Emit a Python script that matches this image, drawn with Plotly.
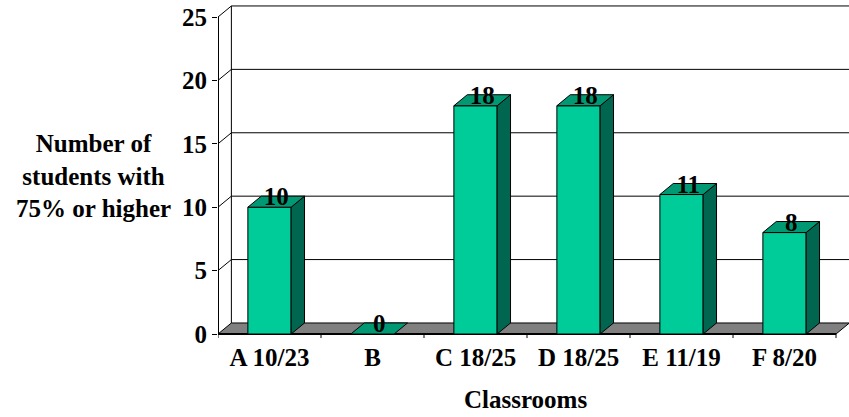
import plotly.graph_objects as go

# Data
classrooms = ["A 10/23", "B", "C 18/25", "D 18/25", "E 11/19", "F 8/20"]
students_75 = [10, 0, 18, 18, 11, 8]
y_ticks = [0, 5, 10, 15, 20, 25]

# Styling / pseudo-3D geometry (in axis units)
FRONT = "#00CC99"
TOP = "#009973"
SIDE = "#006650"
FLOOR = "#808080"
BAR_W = 0.42
DX, DY = 0.13, 0.87          # depth offset of the 3D box
X_MIN, X_MAX = -0.5, 5.626
Y_MIN, Y_MAX = -0.473, 25.946
SERIF = "Liberation Serif"


def font():
    return dict(family=SERIF, size=25, color="black")


def bold(s):
    return f"<b>{s}</b>"


def poly(xs, ys, fill=None, width=1):
    """Closed outline (optionally filled) in data coordinates."""
    kw = dict(fill="toself", fillcolor=fill) if fill else {}
    return go.Scatter(x=xs, y=ys, mode="lines",
                      line=dict(color="black", width=width),
                      showlegend=False, hoverinfo="skip", **kw)


idx = list(range(len(classrooms)))
n = len(classrooms)
x_end = X_MIN + n

fig = go.Figure()

# back wall gridlines plus the connectors on the left wall
for v in y_ticks[1:]:
    fig.add_trace(poly([X_MIN, X_MIN + DX, X_MAX], [v, v + DY, v + DY]))
# left wall back edge
fig.add_trace(poly([X_MIN + DX, X_MIN + DX], [DY, y_ticks[-1] + DY]))
# floor
fig.add_trace(poly([X_MIN, x_end, x_end + DX, X_MIN + DX, X_MIN],
                   [0, 0, DY, DY, 0], fill=FLOOR))
# front floor edge and front value axis
fig.add_trace(poly([x_end, X_MIN, X_MIN], [0, 0, y_ticks[-1]], width=2))
# category boundary ticks
for k in range(n + 1):
    fig.add_trace(poly([X_MIN + k, X_MIN + k], [0, -0.32]))

# 3D bars: front, side and top faces
for i, v in zip(idx, students_75):
    xl, xr = i - BAR_W / 2, i + BAR_W / 2
    if v > 0:
        fig.add_trace(poly([xl, xr, xr, xl, xl], [0, 0, v, v, 0], fill=FRONT))
        fig.add_trace(poly([xr, xr + DX, xr + DX, xr, xr],
                           [0, DY, v + DY, v, 0], fill=SIDE))
    fig.add_trace(poly([xl, xr, xr + DX, xl + DX, xl],
                       [v, v, v + DY, v + DY, v], fill=TOP))

# value labels on top of the bars
fig.add_trace(go.Scatter(
    x=[i + DX / 2 for i in idx],
    y=[v + DY / 2 + 0.2 for v in students_75],
    text=[bold(v) for v in students_75],
    mode="text", textposition="middle center",
    textfont=font(),
    showlegend=False, hoverinfo="skip", cliponaxis=False,
))

fig.update_layout(
    width=849, height=417,
    margin=dict(l=218, r=0, t=5, b=77),
    font=font(),
    plot_bgcolor="white", paper_bgcolor="white",
    xaxis=dict(range=[X_MIN, X_MAX], tickvals=idx,
               ticktext=[bold(c) for c in classrooms],
               showgrid=False, zeroline=False, showline=False, ticks="",
               tickfont=font()),
    yaxis=dict(range=[Y_MIN, Y_MAX], tickvals=y_ticks,
               ticktext=[bold(t) for t in y_ticks],
               showgrid=False, zeroline=False, showline=False,
               ticks="outside", ticklen=5, tickwidth=1, tickcolor="black",
               tickfont=font()),
    annotations=[
        dict(text=bold("Number of<br>students with<br>75% or higher"),
             xref="paper", yref="paper", x=-0.198, y=0.49,
             xanchor="center", yanchor="middle", showarrow=False,
             font=font()),
        dict(text=bold("Classrooms"), xref="paper", yref="paper",
             x=0.487, y=-0.179, xanchor="center", yanchor="middle",
             showarrow=False, font=font()),
    ],
)

fig.write_html("out.html")
